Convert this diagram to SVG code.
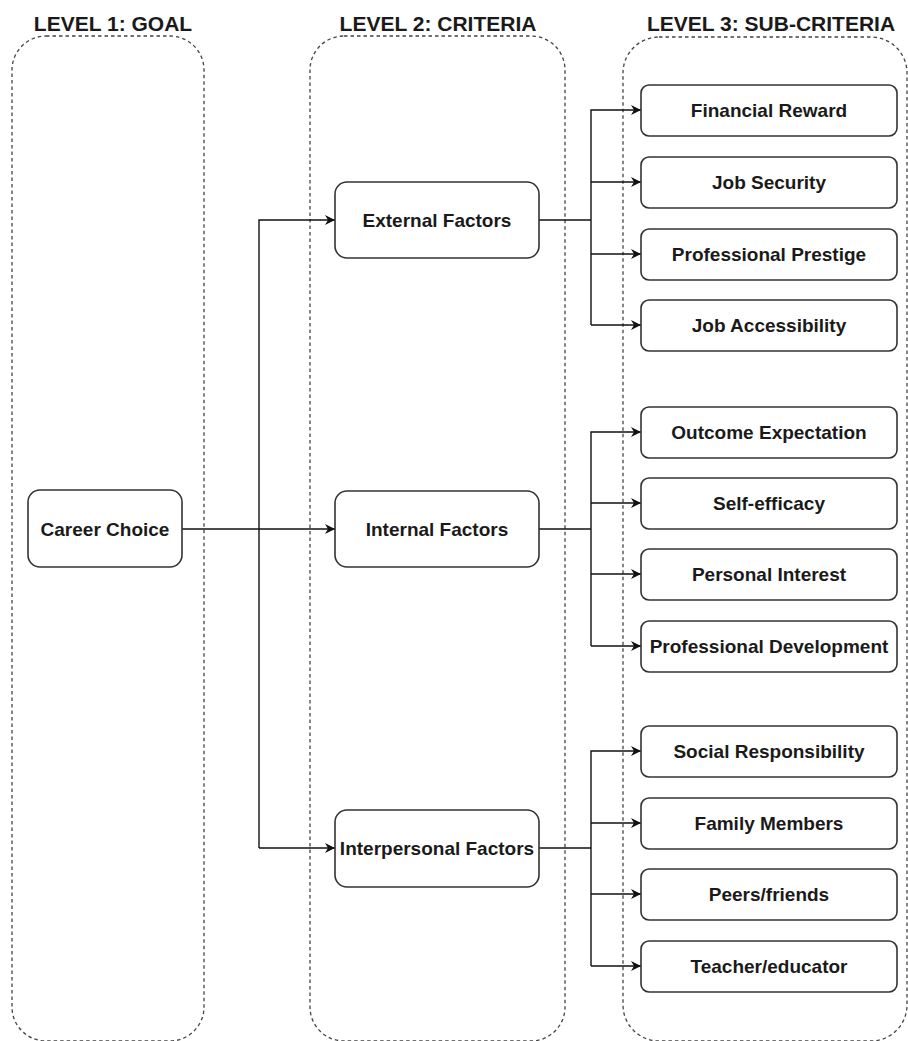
<svg xmlns="http://www.w3.org/2000/svg" width="908" height="1041" viewBox="0 0 908 1041">
<style>
.bg{fill:#fff}
.cont{fill:none;stroke:#444;stroke-width:1.3;stroke-dasharray:3.5 3}
.title{font-family:"Liberation Sans",Arial,sans-serif;font-weight:bold;font-size:21px;fill:#1a1a1a;text-anchor:middle}
.node rect{fill:#fff;stroke:#333;stroke-width:1.6}
.node text{font-family:"Liberation Sans",Arial,sans-serif;font-weight:bold;font-size:19px;fill:#1a1a1a;text-anchor:middle;dominant-baseline:central}
.conn{fill:none;stroke:#111;stroke-width:1.4}
</style>
<defs>
<marker id="arr" viewBox="0 0 10 10" refX="10" refY="5" markerWidth="10" markerHeight="10" markerUnits="userSpaceOnUse" orient="auto">
<path d="M0,0 L10,5 L0,10 L3,5 Z" fill="#111"/>
</marker>
</defs>
<rect class="bg" width="908" height="1041"/>
<g id="containers">
<rect class="cont" x="12" y="36" width="192" height="1005" rx="34"/>
<rect class="cont" x="310" y="36" width="255" height="1005" rx="34"/>
<rect class="cont" x="623" y="37" width="284" height="1004" rx="36"/>
</g>
<g id="titles">
<text class="title" x="113" y="31">LEVEL 1: GOAL</text>
<text class="title" x="438" y="31">LEVEL 2: CRITERIA</text>
<text class="title" x="771" y="31">LEVEL 3: SUB-CRITERIA</text>
</g>
<g id="connectors">
<path class="conn" d="M182,529 H335" marker-end="url(#arr)"/>
<path class="conn" d="M259,848 V220 H335" marker-end="url(#arr)"/>
<path class="conn" d="M259,848 H335" marker-end="url(#arr)"/>
<path class="conn" d="M539,220 H591"/>
<path class="conn" d="M591,325 V110 H641" marker-end="url(#arr)"/>
<path class="conn" d="M591,182 H641" marker-end="url(#arr)"/>
<path class="conn" d="M591,254 H641" marker-end="url(#arr)"/>
<path class="conn" d="M591,325 H641" marker-end="url(#arr)"/>
<path class="conn" d="M539,529 H591"/>
<path class="conn" d="M591,646 V432 H641" marker-end="url(#arr)"/>
<path class="conn" d="M591,503 H641" marker-end="url(#arr)"/>
<path class="conn" d="M591,574 H641" marker-end="url(#arr)"/>
<path class="conn" d="M591,646 H641" marker-end="url(#arr)"/>
<path class="conn" d="M539,848 H591"/>
<path class="conn" d="M591,966 V751 H641" marker-end="url(#arr)"/>
<path class="conn" d="M591,823 H641" marker-end="url(#arr)"/>
<path class="conn" d="M591,894 H641" marker-end="url(#arr)"/>
<path class="conn" d="M591,966 H641" marker-end="url(#arr)"/>
</g>
<g id="career-choice" class="node"><rect x="28" y="490" width="154" height="77" rx="12"/><text x="105" y="529">Career Choice</text></g>
<g id="external-factors" class="node"><rect x="335" y="182" width="204" height="76" rx="12"/><text x="437" y="220">External Factors</text></g>
<g id="internal-factors" class="node"><rect x="335" y="491" width="204" height="76" rx="12"/><text x="437" y="529">Internal Factors</text></g>
<g id="interpersonal-factors" class="node"><rect x="335" y="810" width="204" height="77" rx="12"/><text x="437" y="848">Interpersonal Factors</text></g>
<g id="financial-reward" class="node"><rect x="641" y="85" width="256" height="51" rx="8"/><text x="769" y="110">Financial Reward</text></g>
<g id="job-security" class="node"><rect x="641" y="157" width="256" height="51" rx="8"/><text x="769" y="182">Job Security</text></g>
<g id="professional-prestige" class="node"><rect x="641" y="229" width="256" height="51" rx="8"/><text x="769" y="254">Professional Prestige</text></g>
<g id="job-accessibility" class="node"><rect x="641" y="300" width="256" height="51" rx="8"/><text x="769" y="325">Job Accessibility</text></g>
<g id="outcome-expectation" class="node"><rect x="641" y="407" width="256" height="51" rx="8"/><text x="769" y="432">Outcome Expectation</text></g>
<g id="self-efficacy" class="node"><rect x="641" y="478" width="256" height="51" rx="8"/><text x="769" y="503">Self-efficacy</text></g>
<g id="personal-interest" class="node"><rect x="641" y="549" width="256" height="51" rx="8"/><text x="769" y="574">Personal Interest</text></g>
<g id="professional-development" class="node"><rect x="641" y="621" width="256" height="51" rx="8"/><text x="769" y="646">Professional Development</text></g>
<g id="social-responsibility" class="node"><rect x="641" y="726" width="256" height="51" rx="8"/><text x="769" y="751">Social Responsibility</text></g>
<g id="family-members" class="node"><rect x="641" y="798" width="256" height="51" rx="8"/><text x="769" y="823">Family Members</text></g>
<g id="peers-friends" class="node"><rect x="641" y="869" width="256" height="51" rx="8"/><text x="769" y="894">Peers/friends</text></g>
<g id="teacher-educator" class="node"><rect x="641" y="941" width="256" height="51" rx="8"/><text x="769" y="966">Teacher/educator</text></g>
</svg>
